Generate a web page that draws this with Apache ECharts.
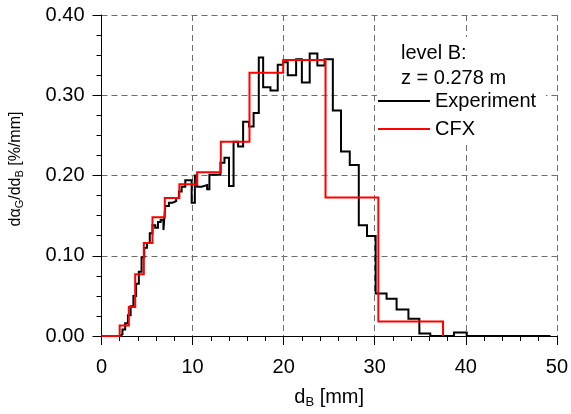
<!DOCTYPE html>
<html>
<head>
<meta charset="utf-8">
<script src="https://cdn.jsdelivr.net/npm/echarts@6/dist/echarts.min.js"></script>
<style>
  html, body { margin: 0; padding: 0; background: #fff; }
  #chart { width: 571px; height: 414px; }
</style>
</head>
<body>
<div id="chart"></div>
<script>
// Bubble-size distribution, level B (z = 0.278 m)
// Experiment: bin edges [mm] and bin values [%/mm]
const expEdges = [0, 2.0, 2.3, 2.6, 2.9, 3.2, 3.5, 3.8, 4.1, 4.4, 4.7, 5.0, 5.3, 5.6, 5.9, 6.2, 6.5, 6.8, 7.0,
  7.4, 7.8, 8.2, 8.5, 8.8, 9.2, 9.9, 10.25, 10.5, 11.0, 11.6, 11.85, 13.06, 13.5, 14.0, 14.5, 15.0, 15.55,
  16.2, 16.7, 17.27, 17.75, 18.55, 19.35, 19.94, 20.45, 21.37, 22.0, 22.86, 23.7, 24.5, 25.4, 26.3, 27.26,
  28.25, 29.15, 30.1, 31.3, 32.4, 33.7, 34.9, 36.1, 38.7, 40.1, 49.3];
const expValues = [0, 0.002, 0.008, 0.016, 0.026, 0.037, 0.050, 0.065, 0.080, 0.098, 0.110, 0.116, 0.128,
  0.138, 0.135, 0.142, 0.145, 0.132, 0.162, 0.166, 0.168, 0.172, 0.180, 0.186, 0.194, 0.166, 0.200, 0.186,
  0.188, 0.183, 0.201, 0.216, 0.222, 0.187, 0.242, 0.236, 0.267, 0.261, 0.278, 0.347, 0.310, 0.306, 0.338,
  0.341, 0.325, 0.345, 0.316, 0.352, 0.337, 0.345, 0.281, 0.230, 0.213, 0.138, 0.1245, 0.053, 0.0465,
  0.033, 0.0215, 0.003, 0, 0.0045, 0];

// CFX: size-class edges [mm] and class values [%/mm]
const cfxEdges = [0, 2, 3, 3.7, 4.65, 5.6, 6.95, 8.55, 10.5, 13.1, 16.25, 19.95, 24.6, 30.4, 37.5];
const cfxValues = [0, 0.013, 0.036, 0.077, 0.116, 0.148, 0.172, 0.189, 0.204, 0.242, 0.328, 0.344, 0.1725, 0.018];

// Axis ticks
const xTicks = [0, 10, 20, 30, 40, 50];
const yTicks = [0.00, 0.10, 0.20, 0.30, 0.40];

// Turn bins into a histogram outline
function stepLine(edges, values, closeToZero) {
  const pts = [];
  for (let i = 0; i < values.length; i++) {
    pts.push([edges[i], values[i]]);
    pts.push([edges[i + 1], values[i]]);
  }
  if (closeToZero) pts.push([edges[edges.length - 1], 0]);
  return pts;
}

const FONT = '"Liberation Sans", Arial, Helvetica, sans-serif';
const gridDash = { color: '#6e6e6e', width: 1, type: [6, 4] };

const chart = echarts.init(document.getElementById('chart'), null, { renderer: 'canvas' });

chart.setOption({
  animation: false,
  backgroundColor: '#fff',
  grid: { left: 101, right: 14, top: 15, bottom: 69, containLabel: false },
  xAxis: {
    type: 'value',
    min: xTicks[0], max: xTicks[xTicks.length - 1], interval: 10,
    name: '{m|d}{s|B}{m| [mm]}',
    nameLocation: 'middle', nameGap: 50,
    nameTextStyle: {
      rich: {
        m: { fontFamily: FONT, fontSize: 20, color: '#000' },
        s: { fontFamily: FONT, fontSize: 13, color: '#000', verticalAlign: 'bottom', padding: [10, 0, 0, 0] }
      }
    },
    axisLine: { show: true, onZero: false, lineStyle: { color: '#000', width: 1 } },
    axisTick: { show: true, inside: false, length: 9, lineStyle: { color: '#000' } },
    minorTick: { show: true, splitNumber: 5, length: 5, lineStyle: { color: '#000' } },
    axisLabel: { fontFamily: FONT, fontSize: 20, color: '#000', margin: 21 },
    splitLine: { show: true, lineStyle: gridDash }
  },
  yAxis: {
    type: 'value',
    min: yTicks[0], max: yTicks[yTicks.length - 1], interval: 0.1,
    name: '{m|dα}{s|G}{m|/dd}{s|B}{m| [%/mm]}',
    nameLocation: 'middle', nameGap: 76, nameRotate: 90,
    nameTextStyle: {
      padding: [0, 0, 0, 13],
      rich: {
        m: { fontFamily: FONT, fontSize: 16, color: '#000' },
        s: { fontFamily: FONT, fontSize: 11, color: '#000', verticalAlign: 'bottom', padding: [8, 0, 0, 0] }
      }
    },
    axisLine: { show: true, onZero: false, lineStyle: { color: '#000', width: 1 } },
    axisTick: { show: true, inside: false, length: 9, lineStyle: { color: '#000' } },
    minorTick: { show: true, splitNumber: 4, length: 5, lineStyle: { color: '#000' } },
    axisLabel: {
      fontFamily: FONT, fontSize: 20, color: '#000', margin: 17,
      formatter: v => v.toFixed(2)
    },
    splitLine: { show: true, lineStyle: gridDash }
  },
  legend: {
    orient: 'vertical',
    left: 378, top: 91,
    icon: 'rect',
    itemWidth: 52, itemHeight: 2, itemGap: 8,
    padding: 0,
    textStyle: { fontFamily: FONT, fontSize: 20, color: '#000' },
    data: [{ name: 'Experiment' }, { name: 'CFX' }]
  },
  graphic: [
    {
      type: 'rect', z: 1,
      shape: { x: 377, y: 37, width: 169, height: 106 },
      style: { fill: '#fff' }
    },
    {
      type: 'text', z: 5, left: 401, top: 41,
      style: {
        text: 'level B:\nz = 0.278 m',
        fontFamily: FONT, fontSize: 20, lineHeight: 25, fill: '#000'
      }
    }
  ],
  series: [
    {
      name: 'Experiment', type: 'line', data: stepLine(expEdges, expValues, false),
      symbol: 'none', z: 3,
      lineStyle: { color: '#000', width: 2, join: 'miter' },
      itemStyle: { color: '#000' }
    },
    {
      name: 'CFX', type: 'line', data: stepLine(cfxEdges, cfxValues, true),
      symbol: 'none', z: 4,
      lineStyle: { color: '#ff0000', width: 2, join: 'miter' },
      itemStyle: { color: '#ff0000' }
    }
  ]
});
</script>
</body>
</html>
